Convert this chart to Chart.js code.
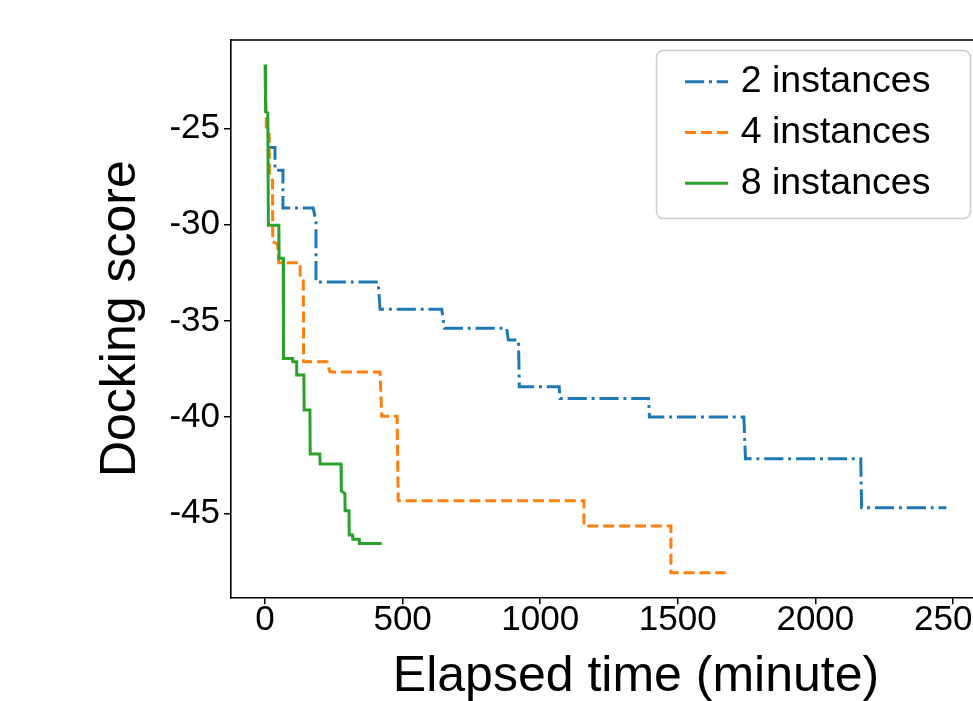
<!DOCTYPE html>
<html><head><meta charset="utf-8">
<script src="https://cdn.jsdelivr.net/npm/chart.js@4.4.1/dist/chart.umd.min.js"></script>
<style>
html,body{margin:0;padding:0;overflow:hidden;background:#fff;width:973px;height:701px}
#wrap{position:absolute;left:0;top:0;width:1060px;height:720px}
</style>
</head><body><div id="wrap"><canvas id="c" width="1060" height="720"></canvas></div>
<script>
// ---- data ----
const seriesNames = ['2 instances', '4 instances', '8 instances'];

const time2 = [10, 36, 36, 65, 65, 175, 185, 185, 411, 418, 642, 652, 878, 884, 921, 924, 1069, 1072, 1394, 1397, 1740, 1746, 2165, 2168, 2476];
const score2 = [-26.0, -26.0, -27.17, -27.17, -29.14, -29.14, -29.85, -32.98, -32.98, -34.40, -34.40, -35.39, -35.39, -36.0, -36.0, -38.42, -38.42, -39.03, -39.03, -40.0, -40.0, -42.16, -42.16, -44.71, -44.71];

const time4 = [3, 5, 15, 16, 27, 28, 45, 50, 127, 128, 139, 140, 225, 236, 418, 424, 480, 484, 1159, 1159, 1475, 1475, 1674];
const score4 = [-23.6, -25.2, -25.3, -27.5, -27.7, -30.9, -31.0, -31.98, -31.98, -32.79, -32.9, -37.12, -37.12, -37.66, -37.66, -39.95, -39.95, -44.35, -44.35, -45.66, -45.66, -48.09, -48.09];

const time8 = [0, 2, 10, 12, 50, 51, 66, 67, 100, 101, 115, 115, 141, 142, 163, 164, 199, 200, 276, 277, 290, 291, 305, 306, 318, 319, 342, 343, 424];
const score8 = [-21.68, -24.14, -24.2, -30.03, -30.03, -31.75, -31.75, -36.95, -36.95, -37.12, -37.12, -37.81, -37.81, -39.63, -39.63, -41.92, -41.92, -42.44, -42.44, -43.83, -43.97, -44.86, -44.86, -46.13, -46.13, -46.35, -46.35, -46.56, -46.56];

const xTickValues = [0, 500, 1000, 1500, 2000, 2500];
const yTickValues = [-45, -40, -35, -30, -25];

// ---- helpers ----
const FONT = '"Liberation Sans", Arial, Helvetica, sans-serif';
const toPoints = (xs, ys) => xs.map((x, i) => ({x: x, y: ys[i]}));

const boxLegend = {
  id: 'boxLegend',
  afterDraw(chart) {
    const ctx = chart.ctx;
    const a = chart.chartArea;
    ctx.save();
    // top spine
    ctx.beginPath();
    ctx.strokeStyle = '#000';
    ctx.lineWidth = 1.6;
    ctx.moveTo(a.left - 0.8, a.top);
    ctx.lineTo(a.right, a.top);
    ctx.stroke();
    // legend frame
    ctx.beginPath();
    ctx.roundRect(656.5, 50.5, 314, 168, 7);
    ctx.fillStyle = 'rgba(255,255,255,0.8)';
    ctx.fill();
    ctx.strokeStyle = '#cccccc';
    ctx.lineWidth = 1.5;
    ctx.stroke();
    chart.data.datasets.forEach((ds, i) => {
      const y = 81.7 + i * 50.8;
      ctx.beginPath();
      ctx.setLineDash(ds.borderDash || []);
      ctx.strokeStyle = ds.borderColor;
      ctx.lineWidth = ds.borderWidth;
      ctx.lineCap = 'butt';
      ctx.moveTo(685, y);
      ctx.lineTo(728, y);
      ctx.stroke();
      ctx.setLineDash([]);
      ctx.fillStyle = '#000';
      ctx.font = '37.5px ' + FONT;
      ctx.textBaseline = 'middle';
      ctx.textAlign = 'left';
      ctx.fillText(ds.label, 740.7, y);
    });
    ctx.restore();
  }
};

const common = {
  fill: false, pointRadius: 0, tension: 0, borderWidth: 3,
  borderCapStyle: 'butt', borderJoinStyle: 'miter'
};

new Chart(document.getElementById('c'), {
  type: 'line',
  data: {
    datasets: [
      Object.assign({label: seriesNames[0], data: toPoints(time2, score2), borderColor: '#1f77b4', borderDash: [19.2, 4.8, 3, 4.8], order: 3}, common),
      Object.assign({label: seriesNames[1], data: toPoints(time4, score4), borderColor: '#ff7f0e', borderDash: [11.1, 4.8], order: 2}, common),
      Object.assign({label: seriesNames[2], data: toPoints(time8, score8), borderColor: '#2ca02c', order: 1}, common)
    ]
  },
  options: {
    responsive: false,
    animation: false,
    devicePixelRatio: 1,
    layout: {padding: {left: 0, top: 40, right: 19, bottom: 0}},
    plugins: {legend: {display: false}, tooltip: {enabled: false}},
    scales: {
      x: {
        type: 'linear', min: -123.8, max: 2820,
        afterBuildTicks: s => { s.ticks = xTickValues.map(v => ({value: v})); },
        afterFit: s => { s.height = 122.7; },
        grid: {drawOnChartArea: false, drawTicks: true, tickLength: 7, color: '#000', lineWidth: 1.5},
        border: {display: true, color: '#000', width: 1.6},
        ticks: {color: '#000', font: {size: 35, family: FONT, lineHeight: 1}, padding: -1, maxRotation: 0,
                callback: v => String(v)},
        title: {display: true, text: 'Elapsed time (minute)', color: '#000',
                font: {size: 50, family: FONT, lineHeight: 1.2}, padding: {top: 0, bottom: 13}}
      },
      y: {
        type: 'linear', min: -49.36, max: -20.41,
        afterBuildTicks: s => { s.ticks = yTickValues.map(v => ({value: v})); },
        afterFit: s => { s.width = 231; },
        grid: {drawOnChartArea: false, drawTicks: true, tickLength: 7, color: '#000', lineWidth: 1.5},
        border: {display: true, color: '#000', width: 1.6},
        ticks: {color: '#000', font: {size: 35, family: FONT}, padding: 4, callback: v => String(v)},
        title: {display: true, text: 'Docking score', color: '#000',
                font: {size: 50, family: FONT, lineHeight: 1.2}, padding: {top: 91, bottom: 0}}
      }
    }
  },
  plugins: [boxLegend]
});
</script>
</body></html>
